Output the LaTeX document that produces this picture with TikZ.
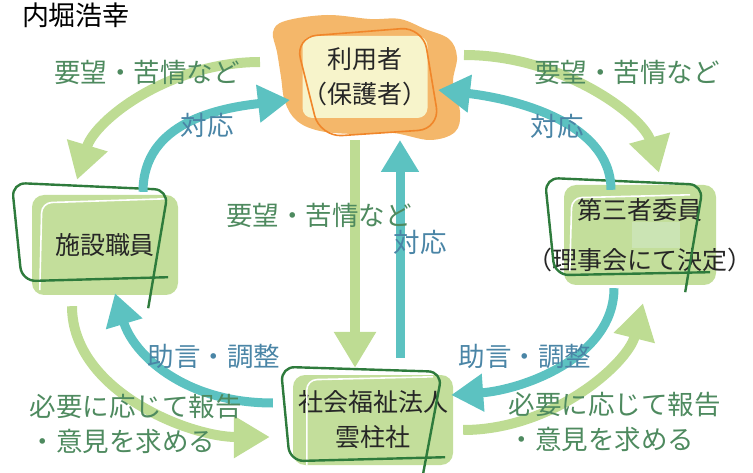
\documentclass[tikz,border=0pt]{standalone}
\usepackage{fontspec}
\setmainfont{Noto Sans CJK JP}
\usetikzlibrary{positioning,arrows.meta,backgrounds}

\definecolor{leaf}{HTML}{BEDC93}
\definecolor{sea}{HTML}{5CC2C1}
\definecolor{boxfill}{HTML}{C3DE9B}
\definecolor{boxpatch}{HTML}{CBE4B4}
\definecolor{pine}{HTML}{2E7B3C}
\definecolor{peach}{HTML}{F4B76A}
\definecolor{cream}{HTML}{F7F4CB}
\definecolor{tangerine}{HTML}{F0862A}
\definecolor{ink}{HTML}{262626}
\definecolor{leaftext}{HTML}{4E8A5F}
\definecolor{seatext}{HTML}{4A85A6}

\tikzset{
    big/.style={font=\fontsize{25}{35}\selectfont},
    small/.style={font=\fontsize{26.5}{35}\selectfont},
    user/.style={big, fill=cream, rounded corners=10pt, inner sep=0pt,
        minimum width=110pt, minimum height=82pt, align=center, text=ink},
    party/.style={big, fill=boxfill, rounded corners=12pt, inner sep=0pt,
        align=center, text=ink},
    sketch/.style={draw=pine, line width=2.4pt, rounded corners=14pt},
    shine/.style={draw=white, line width=1.6pt, rounded corners=10pt},
    request/.style={draw=leaf, line width=10pt, -{Triangle[width=40pt,length=36pt]}},
    answer/.style={draw=sea, line width=9pt, -{Triangle[width=36pt,length=32pt]}},
    reqlabel/.style={small, text=leaftext, align=left},
    anslabel/.style={small, text=seatext},
}

\begin{document}
\begin{tikzpicture}[x=1pt,y=-1pt,on grid]
    \useasboundingbox (0,0) rectangle (753,473);

    \node[font=\fontsize{27}{30}\selectfont] (author) at (76,15) {内堀浩幸};

    % the four parties
    \node[user] (user) at (365,77) {利用者\\（保護者）};
    \node[party, minimum width=146pt, minimum height=100pt,
        below left=168pt and 260pt of user] (staff) {施設職員};
    \node[party, minimum width=152pt, minimum height=100pt,
        below right=158pt and 275pt of user] (third)
        {第三者委員\\[15pt]\makebox[0pt]{（理事会にて決定）}};
    \node[party, minimum width=160pt, minimum height=90pt,
        below right=343pt and 8pt of user] (corp) {社会福祉法人\\雲柱社};

    \begin{scope}[on background layer, shift={(user.center)}]
        \fill[peach] plot[smooth cycle, tension=0.6] coordinates {
            (-92,-45) (-80,-56) (-38,-62) (5,-58) (35,-58) (60,-48) (84,-38)
            (92,-20) (88,6) (95,35) (90,55) (65,63) (28,56) (-10,57)
            (-45,54) (-68,44) (-80,25) (-84,0) (-88,-25)};
    \end{scope}
    \draw[tangerine, line width=1.6pt, rounded corners=22pt, shift={(user.center)}]
        (-70,-40) -- (58,-50) -- (75,52) -- (-45,60) -- cycle;

    \fill[boxpatch] ([shift={(-8,-13)}]third.center) rectangle ++(48,26);

    % hand drawn frames
    \draw[shine] ([shift={(8,-5)}]staff.south west) -- ([shift={(10,8)}]staff.north west)
        -- ([shift={(-13,4)}]staff.north east);
    \draw[shine] ([shift={(6,-14)}]third.south west) -- ([shift={(8,13)}]third.north west)
        -- ([shift={(-26,10)}]third.north east);
    \draw[shine] ([shift={(14,0)}]corp.south west) -- ([shift={(14,5)}]corp.north west)
        -- ([shift={(-20,2)}]corp.north east);
    \draw[sketch] ([shift={(-10,-18)}]staff.south east) -- ([shift={(-10,-14)}]staff.south west)
        -- ([shift={(-20,-12)}]staff.north west) -- ([shift={(-10,-5)}]staff.north east)
        -- ([shift={(-30,13)}]staff.south east);
    \draw[sketch] ([shift={(-6,-13)}]third.south east) -- ([shift={(-9,-10)}]third.south west)
        -- ([shift={(-19,-7)}]third.north west) -- ([shift={(-13,0)}]third.north east)
        -- ([shift={(-31,7)}]third.south east);
    \draw[sketch] ([shift={(-8,-8)}]corp.south east) -- ([shift={(-3,-4)}]corp.south west)
        -- ([shift={(-12,-8)}]corp.north west) -- ([shift={(-11,-3)}]corp.north east)
        -- ([shift={(-30,8)}]corp.south east);

    % requests
    \draw[request] ([shift={(-105,-15)}]user.center) .. controls +(-90,0) and +(18,-60)
        .. ([shift={(-28,-15)}]staff.north);
    \draw[request] ([shift={(99,-22)}]user.center) .. controls +(100,0) and +(-15,-55)
        .. ([shift={(19,-12)}]third.north);
    \draw[request] ([shift={(-10,63)}]user.center) -- ([shift={(-18,-7)}]corp.north);
    \draw[request] ([shift={(-33,11)}]staff.south) .. controls +(0,85) and +(-80,0)
        .. ([shift={(-23,17)}]corp.west);
    \draw[request] ([shift={(10,10)}]corp.east) .. controls +(90,0) and +(-15,60)
        .. ([shift={(3,18)}]third.south);

    % answers
    \draw[answer] ([shift={(38,-3)}]staff.north) .. controls +(0,-70) and +(-70,8)
        .. ([shift={(-75,23)}]user.center);
    \draw[answer] ([shift={(-29,5)}]third.north) .. controls +(0,-70) and +(70,8)
        .. ([shift={(73,13)}]user.center);
    \draw[answer] ([shift={(27,-17)}]corp.north) -- ([shift={(35,63)}]user.center);
    \draw[answer] ([shift={(-20,-17)}]corp.west) .. controls +(-90,0) and +(18,60)
        .. ([shift={(10,-2)}]staff.south);
    \draw[answer] ([shift={(-26,3)}]third.south) .. controls +(0,70) and +(70,-5)
        .. ([shift={(-2,-25)}]corp.east);

    \node[reqlabel] (req1) at (147,72) {要望・苦情など};
    \node[reqlabel] (req2) at (627,72) {要望・苦情など};
    \node[reqlabel] (req3) at (319,215) {要望・苦情など};
    \node[reqlabel, anchor=west] (rep1) at (26,424) {必要に応じて報告\\・意見を求める};
    \node[reqlabel, anchor=west] (rep2) at (505,422) {必要に応じて報告\\・意見を求める};
    \node[anslabel] (ans1) at (207,125) {対応};
    \node[anslabel] (ans2) at (557,126) {対応};
    \node[anslabel] (ans3) at (420,242) {対応};
    \node[anslabel] (adv1) at (214,357) {助言・調整};
    \node[anslabel] (adv2) at (525,357) {助言・調整};
\end{tikzpicture}
\end{document}
